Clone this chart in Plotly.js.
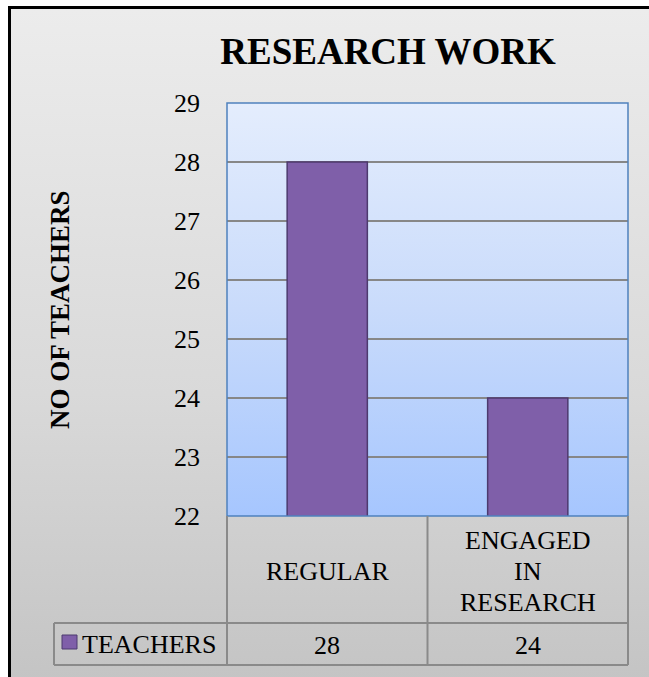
<!DOCTYPE html>
<html>
<head>
<meta charset="utf-8">
<script src="https://cdn.plot.ly/plotly-3.0.1.min.js"></script>
<style>
  html, body { margin: 0; padding: 0; width: 649px; height: 677px; overflow: hidden; background: #ffffff; }
  #frame { position: absolute; left: 8px; top: 6px; width: 660px; height: 700px;
           border-left: 3px solid #000; border-top: 3px solid #000;
           background: linear-gradient(to bottom, #ececec 0%, #d9d9d9 55%, #c2c2c2 100%); }
  #chart { position: absolute; left: 0; top: 0; width: 649px; height: 677px; }
</style>
</head>
<body>
<div id="frame"></div>
<div id="chart"></div>
<script>
// ---- data ----
const chartTitle = "RESEARCH WORK";
const yTitle = "NO OF TEACHERS";
const seriesName = "TEACHERS";
const categories = ["REGULAR", "ENGAGED IN RESEARCH"];
const tableLabels = ["REGULAR", "ENGAGED<br>IN<br>RESEARCH"];
const values = [28, 24];
const yTicks = [22, 23, 24, 25, 26, 27, 28, 29];

// ---- style ----
const serif = "Liberation Serif, Times New Roman, serif";
const barFill = "#7f5fa9";
const barLine = "#4d3a6e";
const tableLine = "#8a8a8a";

const plotGrad = "data:image/svg+xml;utf8," + encodeURIComponent(
  "<svg xmlns='http://www.w3.org/2000/svg' width='100' height='100' preserveAspectRatio='none'>" +
  "<defs><linearGradient id='g' x1='0' y1='0' x2='0' y2='1'>" +
  "<stop offset='0' stop-color='#e4edfd'/><stop offset='0.5' stop-color='#c9dbfb'/><stop offset='1' stop-color='#a6c6fe'/>" +
  "</linearGradient></defs><rect width='100' height='100' fill='url(#g)'/></svg>");

const L = 227, R = 21, T = 103, B = 161;
const plotW = 649 - L - R, plotH = 677 - T - B;
const px = v => (v - L) / plotW;
const py = v => (677 - B - v) / plotH;

const trace = {
  type: "bar",
  x: categories,
  y: values,
  name: seriesName,
  marker: { color: barFill, line: { color: barLine, width: 1.5 } },
  showlegend: false,
  hoverinfo: "x+y"
};

const shapes = [];
// plot border
shapes.push({ type: "rect", xref: "paper", yref: "paper", x0: 0, x1: 1, y0: 0, y1: 1,
  line: { color: "#4f81bd", width: 1.5 }, layer: "above" });
// table lines
const rowSplit = py(623), tableBottom = py(665), legendLeft = px(54);
shapes.push({ type: "line", xref: "paper", yref: "paper", x0: legendLeft, x1: 1, y0: rowSplit, y1: rowSplit, line: { color: tableLine, width: 2 } });
shapes.push({ type: "line", xref: "paper", yref: "paper", x0: legendLeft, x1: 1, y0: tableBottom, y1: tableBottom, line: { color: tableLine, width: 2 } });
const colEdges = [0];
categories.forEach((c, i) => colEdges.push((i + 1) / categories.length));
colEdges.forEach(e => shapes.push({ type: "line", xref: "paper", yref: "paper", x0: e, x1: e, y0: 0, y1: tableBottom, line: { color: tableLine, width: 2 } }));
shapes.push({ type: "line", xref: "paper", yref: "paper", x0: legendLeft, x1: legendLeft, y0: rowSplit, y1: tableBottom, line: { color: tableLine, width: 2 } });
// legend key
shapes.push({ type: "rect", xref: "paper", yref: "paper", x0: px(62), x1: px(77), y0: py(649), y1: py(635),
  fillcolor: barFill, line: { color: barLine, width: 1 } });

const annotations = [];
annotations.push({ xref: "paper", yref: "paper", x: px(60), y: py(310), xanchor: "center", yanchor: "middle",
  text: "<b>" + yTitle + "</b>", textangle: -90,
  showarrow: false, font: { family: serif, size: 27, color: "#000" } });
const lineStep = 31, rowCenter = 571;
categories.forEach((c, i) => {
  const lines = tableLabels[i].split("<br>");
  lines.forEach((ln, k) => {
    const yy = rowCenter + (k - (lines.length - 1) / 2) * lineStep;
    annotations.push({ xref: "x", yref: "paper", x: c, y: py(yy), xanchor: "center", yanchor: "middle",
      text: ln, showarrow: false, font: { family: serif, size: 26, color: "#000" } });
  });
  annotations.push({ xref: "x", yref: "paper", x: c, y: py(645), xanchor: "center", yanchor: "middle",
    text: String(values[i]), showarrow: false,
    font: { family: serif, size: 26, color: "#000" } });
});
annotations.push({ xref: "paper", yref: "paper", x: px(80), y: py(644), xanchor: "left", yanchor: "middle",
  text: seriesName, showarrow: false,
  font: { family: serif, size: 26, color: "#000" } });

const layout = {
  width: 649, height: 677,
  margin: { l: L, r: R, t: T, b: B, pad: 0 },
  paper_bgcolor: "rgba(0,0,0,0)",
  plot_bgcolor: "rgba(0,0,0,0)",
  title: { text: "<b>" + chartTitle + "</b>", x: 388 / 649, xanchor: "center", y: 1 - 51 / 677, yanchor: "middle",
    font: { family: serif, size: 37, color: "#000" } },
  bargap: 0.6,
  xaxis: { showticklabels: false, showgrid: false, zeroline: false, showline: false, ticks: "", fixedrange: true },
  yaxis: { range: [22, 29], tickvals: yTicks, ticktext: yTicks.map(String), showgrid: true, gridcolor: "#878787", gridwidth: 1.5,
    zeroline: false, showline: false, ticks: "", ticklabelstandoff: 26,
    tickfont: { family: serif, size: 26, color: "#000" }, fixedrange: true },
  images: [{ source: plotGrad, xref: "paper", yref: "paper", x: 0, y: 1, sizex: 1, sizey: 1,
    xanchor: "left", yanchor: "top", sizing: "stretch", layer: "below" }],
  shapes: shapes,
  annotations: annotations,
  showlegend: false
};

Plotly.newPlot("chart", [trace], layout, { displayModeBar: false, staticPlot: true });
</script>
</body>
</html>
